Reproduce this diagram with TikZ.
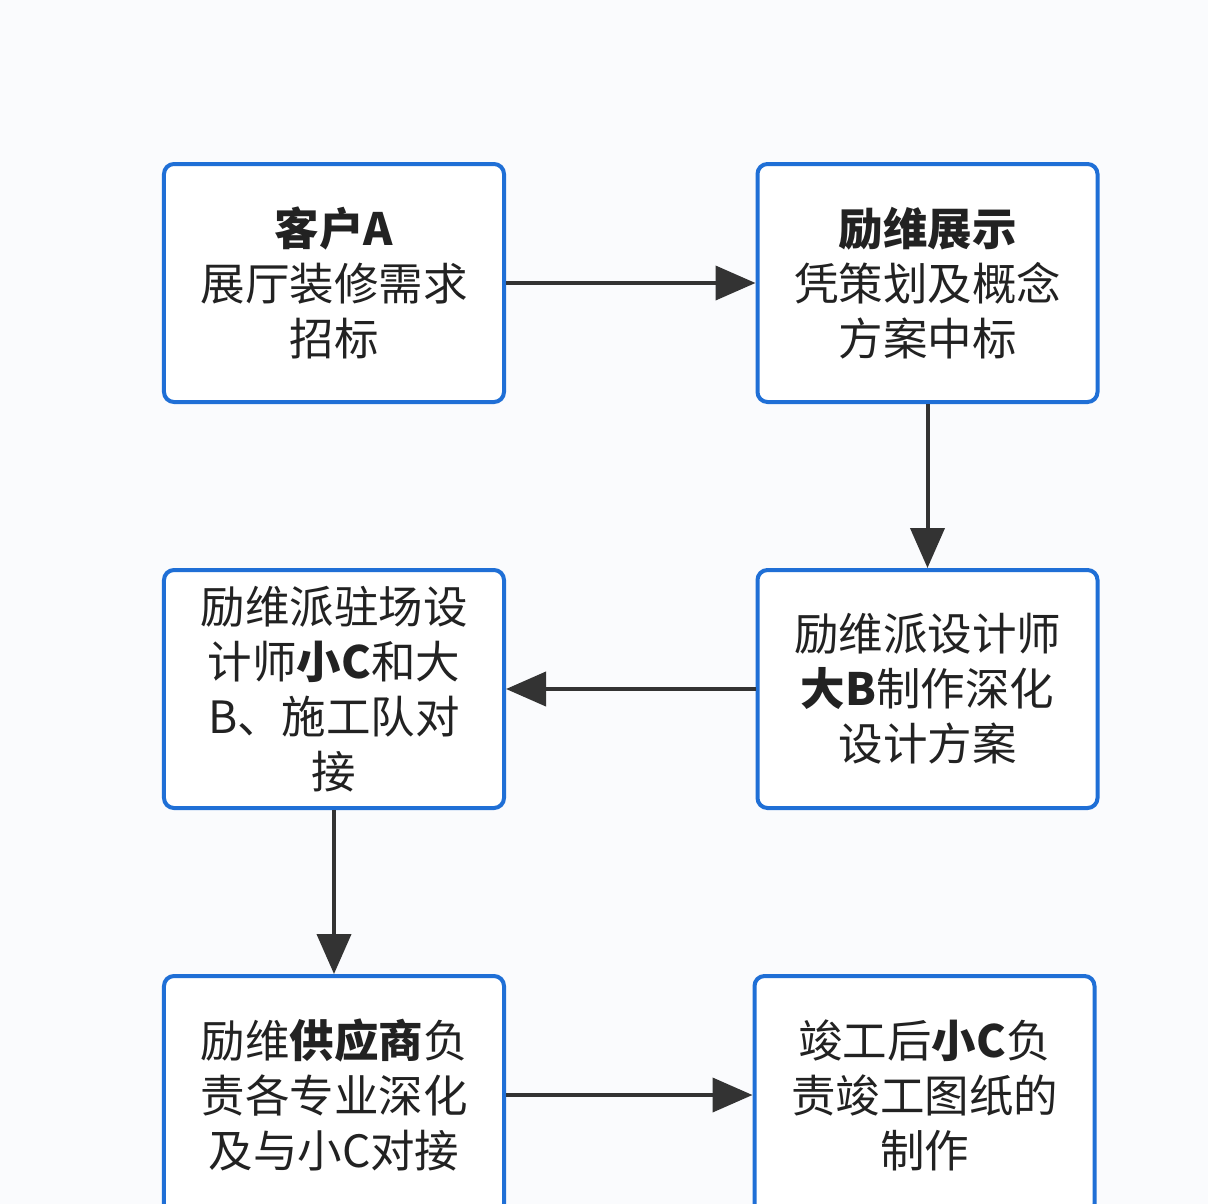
\documentclass[tikz,border=0pt]{standalone}
\usepackage{fontspec}
\setmainfont{Noto Sans CJK SC}
\usetikzlibrary{arrows.meta}
\definecolor{boxblue}{HTML}{1F6FD6}
\definecolor{arrowgray}{HTML}{333333}
\definecolor{bgc}{HTML}{FAFBFD}
\definecolor{txt}{HTML}{222222}
\tikzset{
  stepbox/.style={draw=boxblue, line width=4bp, rounded corners=10bp, fill=white,
    minimum width=340bp, minimum height=238bp, align=center, text=txt,
    font=\fontsize{44.5bp}{55bp}\selectfont, inner sep=0pt},
  flow/.style={draw=arrowgray, line width=4bp, -{Triangle[length=40bp,width=34bp]}}
}
\begin{document}
\begin{tikzpicture}[x=1bp,y=-1bp]
\fill[bgc] (0,0) rectangle (1208,1204);
\useasboundingbox (0,0) rectangle (1208,1204);
\begin{scope}
\clip (0,0) rectangle (1208,1204);
\node[stepbox] (a) at (334,283) {\textbf{客户A}\\展厅装修需求\\招标};
\node[stepbox] (b) at (927.5,283) {\textbf{励维展示}\\凭策划及概念\\方案中标};
\node[stepbox] (c) at (927.5,689) {励维派设计师\\\textbf{大B}制作深化\\设计方案};
\node[stepbox] (d) at (334,689) {励维派驻场设\\计师\textbf{小C}和大\\B、施工队对\\接};
\node[stepbox] (e) at (334,1095) {励维\textbf{供应商}负\\责各专业深化\\及与小C对接};
\node[stepbox] (f) at (924.5,1095) {竣工后\textbf{小C}负\\责竣工图纸的\\制作};
\draw[flow] (a) -- (b);
\draw[flow] (b) -- (c);
\draw[flow] (c) -- (d);
\draw[flow] (d) -- (e);
\draw[flow] (e) -- (f);
\end{scope}
\end{tikzpicture}
\end{document}
